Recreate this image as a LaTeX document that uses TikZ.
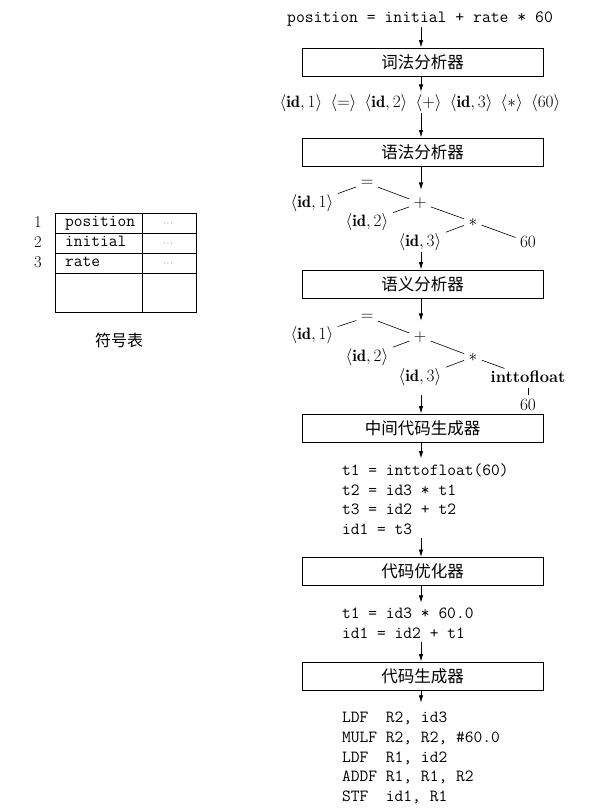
\documentclass[tikz,border=0pt]{standalone}
\usepackage{fontspec}
\newfontfamily\cjk{Noto Sans CJK SC}
\usetikzlibrary{arrows.meta}
\tikzset{
  basefont/.style={font=\fontsize{16.5}{19.7}\selectfont},
  mono/.style={font=\fontsize{17}{19.7}\selectfont\ttfamily},
  phase/.style={draw, line width=0.9pt, minimum width=241pt, minimum height=28pt, inner sep=0pt, font=\fontsize{16.5}{19.7}\selectfont\cjk},
  code/.style={mono, align=left, inner sep=0pt, anchor=north west},
  tnode/.style={font=\fontsize{16.5}{19.7}\selectfont, inner sep=1.5pt},
  tedge/.style={line width=0.6pt, shorten <=3pt, shorten >=3pt},
  arr/.style={line width=0.8pt, -{Latex[length=7.5pt,width=4.5pt]}},
  tabline/.style={line width=0.9pt},
}
\begin{document}
\begin{tikzpicture}[x=1pt,y=-1pt]
\useasboundingbox (0,0) rectangle (591,811);
\coordinate (ax) at (421,0);

% source
\node[mono, font=\fontsize{17.2}{19.7}\selectfont\ttfamily, inner sep=0pt, anchor=base] (src) at (420,22) {position = initial + rate * 60};
\node[phase] (b1) at (422.5,62) {词法分析器};
\node[basefont, inner sep=0pt, anchor=base] (tok) at (420,107)
  {$\langle\mathbf{id},1\rangle\enspace\langle{=}\rangle\enspace\langle\mathbf{id},2\rangle\enspace\langle{+}\rangle\enspace\langle\mathbf{id},3\rangle\enspace\langle{*}\rangle\enspace\langle60\rangle$};
\node[phase] (b2) at (422.5,152) {语法分析器};

% tree 1
\node[tnode] (eqa) at (367,183) {$=$};
\node[tnode] (ida1) at (312,203) {$\langle\mathbf{id},1\rangle$};
\node[tnode] (pla) at (420,203) {$+$};
\node[tnode] (ida2) at (367,222) {$\langle\mathbf{id},2\rangle$};
\node[tnode] (sta) at (473,222) {$*$};
\node[tnode] (ida3) at (420,242) {$\langle\mathbf{id},3\rangle$};
\node[tnode] (sixa) at (528,242) {$60$};
\draw[tedge] (eqa) -- (ida1);
\draw[tedge] (eqa) -- (pla);
\draw[tedge] (pla) -- (ida2);
\draw[tedge] (pla) -- (sta);
\draw[tedge] (sta) -- (ida3);
\draw[tedge] (sta) -- (sixa);

\node[phase] (b3) at (422.5,284) {语义分析器};

% tree 2
\node[tnode] (eqb) at (367,317) {$=$};
\node[tnode] (idb1) at (312,335) {$\langle\mathbf{id},1\rangle$};
\node[tnode] (plb) at (420,337) {$+$};
\node[tnode] (idb2) at (367,357) {$\langle\mathbf{id},2\rangle$};
\node[tnode] (stb) at (473,357) {$*$};
\node[tnode] (idb3) at (420,377) {$\langle\mathbf{id},3\rangle$};
\node[tnode] (itf) at (528,377) {\textbf{inttofloat}};
\node[tnode] (sixb) at (528,405) {$60$};
\draw[tedge] (eqb) -- (idb1);
\draw[tedge] (eqb) -- (plb);
\draw[tedge] (plb) -- (idb2);
\draw[tedge] (plb) -- (stb);
\draw[tedge] (stb) -- (idb3);
\draw[tedge] (stb) -- (itf);
\draw[tedge] (itf) -- (sixb);

\node[phase] (b4) at (422.5,428) {中间代码生成器};
\node[code] (c1) at (342,463.5) {t1 = inttofloat(60)\\t2 = id3 * t1\\t3 = id2 + t2\\id1 = t3};
\node[phase] (b5) at (422.5,571.5) {代码优化器};
\node[code] (c2) at (342,607.8) {t1 = id3 * 60.0\\id1 = id2 + t1};
\node[phase] (b6) at (422.5,676) {代码生成器};
\node[code] (c3) at (342,711.8) {LDF\ \ R2, id3\\MULF R2, R2, \#60.0\\LDF\ \ R1, id2\\ADDF R1, R1, R2\\STF\ \ id1, R1};

% arrows
\draw[arr, shorten <=1pt] (src.south -| ax) -- (b1.north -| ax);
\draw[arr, shorten >=2pt] (b1.south -| ax) -- (tok.north -| ax);
\draw[arr, shorten <=1pt] (tok.south -| ax) -- (b2.north -| ax);
\draw[arr, shorten >=6pt] (b2.south -| ax) -- (pla.north -| ax);
\draw[arr] (ida3.south -| ax) -- (b3.north -| ax);
\draw[arr, shorten >=9pt] (b3.south -| ax) -- (plb.north -| ax);
\draw[arr, shorten <=8pt] (idb3.south -| ax) -- (b4.north -| ax);
\draw[arr, shorten >=5pt] (b4.south -| ax) -- (c1.north -| ax);
\draw[arr, shorten <=3pt] (c1.south -| ax) -- (b5.north -| ax);
\draw[arr, shorten >=5pt] (b5.south -| ax) -- (c2.north -| ax);
\draw[arr, shorten <=3pt] (c2.south -| ax) -- (b6.north -| ax);
\draw[arr, shorten >=9pt] (b6.south -| ax) -- (c3.north -| ax);

% symbol table
\draw[tabline] (55,213) rectangle (196,312);
\draw[tabline] (55,233) -- (196,233);
\draw[tabline] (55,253) -- (196,253);
\draw[tabline] (55,273) -- (196,273);
\draw[tabline] (142,213) -- (142,312);
\node[basefont, inner sep=0pt, anchor=base] (n1) at (38,227) {1};
\node[basefont, inner sep=0pt, anchor=base] (n2) at (38,247) {2};
\node[basefont, inner sep=0pt, anchor=base] (n3) at (38,267) {3};
\node[mono, inner sep=0pt, anchor=base west] (s1) at (65,226) {position};
\node[mono, inner sep=0pt, anchor=base west] (s2) at (65,246) {initial};
\node[mono, inner sep=0pt, anchor=base west] (s3) at (65,266) {rate};
\node[font=\fontsize{8}{9}\selectfont, inner sep=0pt] (d1) at (168,224) {$\cdots$};
\node[font=\fontsize{8}{9}\selectfont, inner sep=0pt] (d2) at (168,244) {$\cdots$};
\node[font=\fontsize{8}{9}\selectfont, inner sep=0pt] (d3) at (168,264) {$\cdots$};
\node[font=\fontsize{16}{19}\selectfont\cjk, inner sep=0pt] (stl) at (119,340) {符号表};
\end{tikzpicture}
\end{document}
